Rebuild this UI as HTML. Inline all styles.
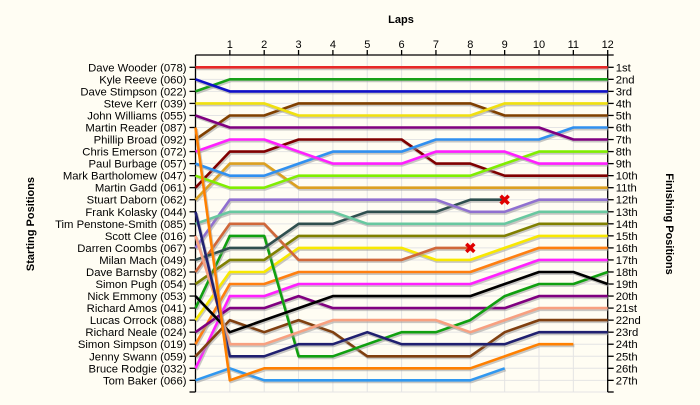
<!DOCTYPE html>
<html><head><meta charset="utf-8"><style>
html,body{margin:0;padding:0;background:#fffdf3;}
svg{display:block;font-family:"Liberation Sans",Arial,sans-serif;}
</style></head><body>
<svg id="chart" width="700" height="405" viewBox="0 0 700 405" xmlns="http://www.w3.org/2000/svg">
<rect x="0" y="0" width="700" height="405" fill="#fffdf3"/>
<text x="401" y="23" text-anchor="middle" font-size="11" font-weight="bold">Laps</text>
<text transform="translate(34,224) rotate(-90)" text-anchor="middle" font-size="11" font-weight="bold">Starting Positions</text>
<text transform="translate(666,224) rotate(90)" text-anchor="middle" font-size="11" font-weight="bold">Finishing Positions</text>
<g id="grid"></g><g id="axes"></g><g id="series"></g>
</svg>
<script>
const drivers = ["Dave Wooder (078)","Kyle Reeve (060)","Dave Stimpson (022)","Steve Kerr (039)","John Williams (055)","Martin Reader (087)","Phillip Broad (092)","Chris Emerson (072)","Paul Burbage (057)","Mark Bartholomew (047)","Martin Gadd (061)","Stuart Daborn (062)","Frank Kolasky (044)","Tim Penstone-Smith (085)","Scott Clee (016)","Darren Coombs (067)","Milan Mach (049)","Dave Barnsby (082)","Simon Pugh (054)","Nick Emmony (053)","Richard Amos (041)","Lucas Orrock (088)","Richard Neale (024)","Simon Simpson (019)","Jenny Swann (059)","Bruce Rodgie (032)","Tom Baker (066)"];
const colors = ["#e82828","#1010c8","#18a018","#f0e010","#800080","#ff8000","#804000","#ff20ff","#3090f0","#80ee00","#800000","#dca020","#202070","#68c8a0","#f8a080","#9070d0","#2f4f4f","#d0683a","#808000","#000000","#10a010","#f8e800","#800080","#ff7f10","#804010","#ff20ff","#3098f0"];
const lapLabels = ["1","2","3","4","5","6","7","8","9","10","11","12"];
const finishLabels = ["1st","2nd","3rd","4th","5th","6th","7th","8th","9th","10th","11th","12th","13th","14th","15th","16th","17th","18th","19th","20th","21st","22nd","23rd","24th","25th","26th","27th"];
const p01 = [1,1,1,1,1,1,1,1,1,1,1,1,1];
const p02 = [2,3,3,3,3,3,3,3,3,3,3,3,3];
const p03 = [3,2,2,2,2,2,2,2,2,2,2,2,2];
const p04 = [4,4,4,5,5,5,5,5,5,4,4,4,4];
const p05 = [5,6,6,6,6,6,6,6,6,6,6,7,7];
const p06 = [6,27,26,26,26,26,26,26,26,25,24,24];
const p07 = [7,5,5,4,4,4,4,4,4,5,5,5,5];
const p08 = [8,7,7,8,9,9,9,8,8,8,9,9,9];
const p09 = [9,10,10,9,8,8,8,7,7,7,7,6,6];
const p10 = [10,11,11,10,10,10,10,10,10,9,8,8,8];
const p11 = [11,8,8,7,7,7,7,9,9,10,10,10,10];
const p12 = [12,9,9,11,11,11,11,11,11,11,11,11,11];
const p13 = [13,25,25,24,24,23,24,24,24,24,23,23,23];
const p14 = [14,13,13,13,13,14,14,14,14,14,13,13,13];
const p15 = [15,24,24,23,22,22,22,22,23,22,21,21,21];
const p16 = [16,12,12,12,12,12,12,12,13,13,12,12,12];
const p17 = [17,16,16,14,14,13,13,13,12,12];
const p18 = [18,14,14,17,17,17,17,16,16];
const p19 = [19,17,17,15,15,15,15,15,15,15,14,14,14];
const p20 = [20,23,22,21,20,20,20,20,20,19,18,18,19];
const p21 = [21,15,15,25,25,24,23,23,22,20,19,19,18];
const p22 = [22,18,18,16,16,16,16,17,17,16,15,15,15];
const p23 = [23,21,21,20,21,21,21,21,21,21,20,20,20];
const p24 = [24,19,19,18,18,18,18,18,18,17,16,16,16];
const p25 = [25,22,23,22,23,25,25,25,25,23,22,22,22];
const p26 = [26,20,20,19,19,19,19,19,19,18,17,17,17];
const p27 = [27,26,27,27,27,27,27,27,27,26];
const positions = [p01,p02,p03,p04,p05,p06,p07,p08,p09,p10,p11,p12,p13,p14,p15,p16,p17,p18,p19,p20,p21,p22,p23,p24,p25,p26,p27];
const retired = [16, 17];

const NS = "http://www.w3.org/2000/svg";
const X0 = 195.5, LAPW = 34.35, Y0 = 67.3, ROWH = 12.04;
function xLap(l){ return X0 + l*LAPW; }
function yPos(p){ return Y0 + (p-1)*ROWH; }
function mk(tag, attrs, parent){ const e=document.createElementNS(NS,tag); for(const k in attrs) e.setAttribute(k,attrs[k]); parent.appendChild(e); return e; }
const grid = document.getElementById('grid'), axes = document.getElementById('axes'), series = document.getElementById('series');
const xEnd = xLap(lapLabels.length);
const yBottom = 392;
for(let i=0;i<finishLabels.length;i++){
  const g = mk('line',{x1:X0,x2:xEnd,y1:yPos(i+1),y2:yPos(i+1),stroke:'#e4e4e4','stroke-width':1},grid);
  
  
}
mk('line',{x1:X0,x2:xEnd,y1:yBottom,y2:yBottom,stroke:'#e4e4e4','stroke-width':1},grid);
for(let l=1;l<=lapLabels.length;l++){
  const g = mk('line',{x1:xLap(l),x2:xLap(l),y1:55,y2:yBottom,stroke:'#e4e4e4','stroke-width':1},grid);
  
  
}
mk('line',{x1:X0,x2:xEnd+6,y1:55,y2:55,stroke:'#000','stroke-width':1.3},axes);
mk('line',{x1:X0,x2:X0,y1:55,y2:yBottom,stroke:'#000','stroke-width':1.3},axes);
mk('line',{x1:xEnd,x2:xEnd,y1:55,y2:yBottom,stroke:'#000','stroke-width':1.3},axes);
mk('line',{x1:X0-6,x2:X0,y1:yBottom,y2:yBottom,stroke:'#000','stroke-width':1.3},axes);
mk('line',{x1:xEnd,x2:xEnd+6,y1:yBottom,y2:yBottom,stroke:'#000','stroke-width':1.3},axes);
for(let l=1;l<=lapLabels.length;l++){
  mk('line',{x1:xLap(l),x2:xLap(l),y1:50,y2:55,stroke:'#000','stroke-width':1.3},axes);
  const t = mk('text',{x:xLap(l),y:48,'text-anchor':'middle','font-size':11},axes);
  t.textContent = lapLabels[l-1];
  
  
}
for(let i=0;i<drivers.length;i++){
  const y = yPos(i+1);
  mk('line',{x1:X0-6,x2:X0,y1:y,y2:y,stroke:'#000','stroke-width':1.3},axes);
  const t = mk('text',{x:X0-9,y:y+4,'text-anchor':'end','font-size':11.3},axes);
  t.textContent = drivers[i];
  
  
}
for(let i=0;i<finishLabels.length;i++){
  const y = yPos(i+1);
  mk('line',{x1:xEnd,x2:xEnd+6,y1:y,y2:y,stroke:'#000','stroke-width':1.3},axes);
  const t = mk('text',{x:xEnd+8,y:y+4,'font-size':11.3},axes);
  t.textContent = finishLabels[i];
  
  
}
for(let i=positions.length-1;i>=0;i--){
  const pts = positions[i].map((p,l)=>xLap(l).toFixed(1)+','+yPos(p).toFixed(1)).join(' ');
  const sh = mk('polyline',{points:pts,fill:'none',stroke:'#9a9a9a','stroke-opacity':0.55,'stroke-width':3,'stroke-linejoin':'round',transform:'translate(1,1.5)'},series);
  
  
  const pl = mk('polyline',{points:pts,fill:'none',stroke:colors[i],'stroke-width':2.6,'stroke-linejoin':'round'},series);
  
  
}
retired.forEach(i=>{
  const arr = positions[i];
  const x = xLap(arr.length-1), y = yPos(arr[arr.length-1]);
  const g = mk('g',{},series);
  
  
  mk('line',{x1:x-4,y1:y-4,x2:x+4,y2:y+4,stroke:'#e00000','stroke-width':3.5},g);
  mk('line',{x1:x-4,y1:y+4,x2:x+4,y2:y-4,stroke:'#e00000','stroke-width':3.5},g);
});
</script>
</body></html>
